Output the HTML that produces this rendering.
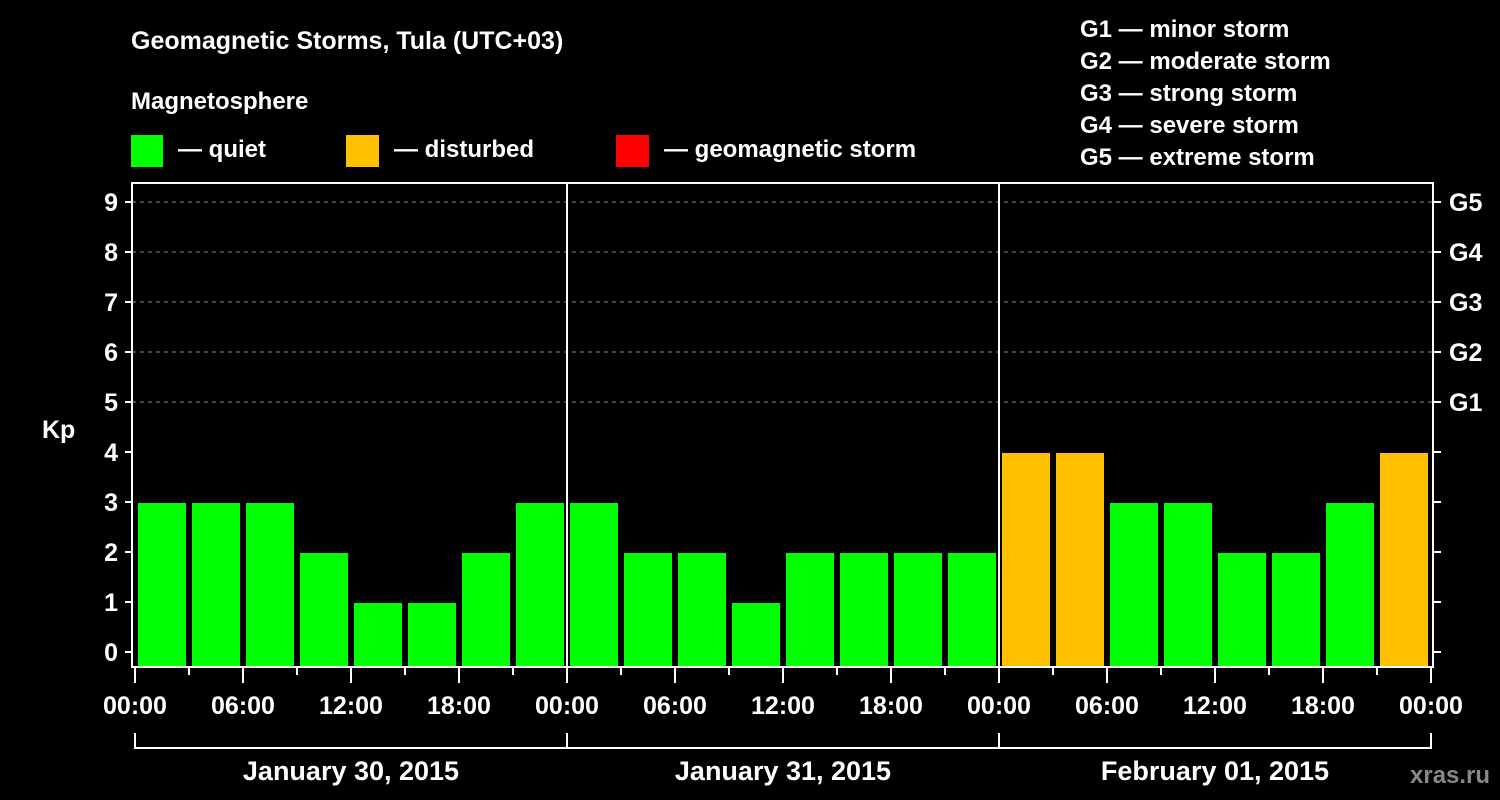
<!DOCTYPE html>
<html><head><meta charset="utf-8"><style>
html,body{margin:0;padding:0;background:#000;}
svg{display:block;font-family:"Liberation Sans",Arial,sans-serif;font-weight:bold;}
</style></head><body>
<svg id="chart" width="1500" height="800" viewBox="0 0 1500 800">
<rect width="1500" height="800" fill="#000"/>
<text x="131" y="49" fill="#fff" font-size="25">Geomagnetic Storms, Tula (UTC+03)</text>
<text x="131" y="109" fill="#fff" font-size="24">Magnetosphere</text>
<g><rect x="131" y="135" width="32" height="32" fill="#00ff00"/><text x="178" y="157" fill="#fff" font-size="24">— quiet</text></g>
<g><rect x="346" y="135" width="33" height="32" fill="#ffc000"/><text x="394" y="157" fill="#fff" font-size="24">— disturbed</text></g>
<g><rect x="616" y="135" width="33" height="32" fill="#ff0000"/><text x="664" y="157" fill="#fff" font-size="24">— geomagnetic storm</text></g>
<g fill="#fff" font-size="24">
<text x="1080" y="37">G1 — minor storm</text>
<text x="1080" y="69">G2 — moderate storm</text>
<text x="1080" y="101">G3 — strong storm</text>
<text x="1080" y="133">G4 — severe storm</text>
<text x="1080" y="165">G5 — extreme storm</text>
</g>
<text x="42" y="438" fill="#fff" font-size="25">Kp</text>
<text x="1410" y="783" fill="#888" font-size="24">xras.ru</text>
<g id="plot"></g>
</svg>
<script>
const values = [3,3,3,2,1,1,2,3, 3,2,2,1,2,2,2,2, 4,4,3,3,2,2,3,4];
const dayLabels = ["January 30, 2015","January 31, 2015","February 01, 2015"];
const hourLabels = ["00:00","06:00","12:00","18:00"];
const kpTicks = [0,1,2,3,4,5,6,7,8,9];
const gLabels = ["G1","G2","G3","G4","G5"];

const NS="http://www.w3.org/2000/svg";
const g=document.getElementById('plot');
const X0=135, SLOT=54, Y0=652, UNIT=50, TOP=183, BOT=667, LEFT=132, RIGHT=1433;
const xs=i=>X0+i*SLOT;
const ys=v=>Y0-v*UNIT;
function mk(tag,attrs){const e=document.createElementNS(NS,tag);for(const k in attrs)e.setAttribute(k,attrs[k]);g.appendChild(e);return e;}
// grid
for(const k of kpTicks){ if(k>=5){
 const l=mk('line',{x1:LEFT,x2:RIGHT,y1:ys(k),y2:ys(k),stroke:'#888','stroke-dasharray':'4,4','stroke-width':1});
 
 
}}
// bars
values.forEach((v,i)=>{
 const r=mk('rect',{x:xs(i)+3,y:ys(v)+1,width:48,height:BOT-ys(v)-1,fill:v>=5?'#ff0000':(v>=4?'#ffc000':'#00ff00')});
 
 
});
// day separators
for(let d=1;d<dayLabels.length;d++){
 const l=mk('line',{x1:xs(d*8),x2:xs(d*8),y1:TOP,y2:BOT,stroke:'#fff','stroke-width':2});
 
 
}
// frame
const fr=mk('rect',{x:LEFT,y:TOP,width:RIGHT-LEFT,height:BOT-TOP,fill:'none',stroke:'#fff','stroke-width':2});


// y ticks
kpTicks.forEach(k=>{
 mk('line',{x1:LEFT-7,x2:LEFT,y1:ys(k),y2:ys(k),stroke:'#fff','stroke-width':2});
 mk('line',{x1:RIGHT,x2:RIGHT+8,y1:ys(k),y2:ys(k),stroke:'#fff','stroke-width':2});
 const t=mk('text',{x:LEFT-14,y:ys(k)+9,fill:'#fff','font-size':25,'text-anchor':'end'});
 t.textContent=k;
 
 
});
gLabels.forEach((s,i)=>{
 const t=mk('text',{x:1449,y:ys(5+i)+9,fill:'#fff','font-size':25});
 t.textContent=s;
 
 
});
// x ticks
const n=values.length;
for(let i=0;i<=n;i++){
 const major=i%2===0;
 mk('line',{x1:xs(i),x2:xs(i),y1:BOT,y2:BOT+(major?16:8),stroke:'#fff','stroke-width':2});
 if(major){
  const t=mk('text',{x:xs(i),y:714,fill:'#fff','font-size':25,'text-anchor':'middle'});
  t.textContent=hourLabels[(i/2)%4];
  
  
 }
}
// date brackets
dayLabels.forEach((s,d)=>{
 const a=xs(d*8), b=xs(d*8+8);
 mk('path',{d:`M${a},733 V748 H${b} V733`,fill:'none',stroke:'#fff','stroke-width':2});
 const t=mk('text',{x:(a+b)/2,y:780,fill:'#fff','font-size':27,'text-anchor':'middle'});
 t.textContent=s;
 
 
});
</script>
</body></html>
